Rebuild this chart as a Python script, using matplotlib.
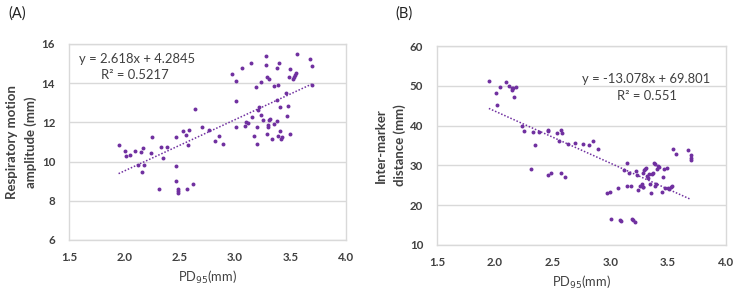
import matplotlib
matplotlib.use("Agg")
import matplotlib.pyplot as plt
import numpy as np

plt.rcParams['font.family'] = ['Lato', 'DejaVu Sans']

# Panel A data: PD95 vs respiratory motion amplitude
pd95_a = [1.948, 2.008, 2.017, 2.047, 2.10, 2.146, 2.167, 2.119, 2.179, 2.155, 2.239, 2.248,
          2.317, 2.335, 2.347, 2.389, 2.464, 2.464, 2.464, 2.485, 2.485, 2.485, 2.534, 2.558,
          2.576, 2.588, 2.567, 2.618, 2.636, 2.699, 2.765, 2.816, 2.858, 2.894, 2.975, 3.008,
          3.008, 3.008, 3.066, 3.087, 3.099, 3.117, 3.144, 3.153, 3.168, 3.186, 3.195, 3.198,
          3.210, 3.219, 3.234, 3.237, 3.255, 3.279, 3.279, 3.285, 3.303, 3.285, 3.294, 3.294,
          3.303, 3.318, 3.330, 3.354, 3.354, 3.375, 3.384, 3.375, 3.375, 3.387, 3.399, 3.408,
          3.408, 3.414, 3.423, 3.459, 3.468, 3.477, 3.483, 3.495, 3.495, 3.519, 3.531, 3.543,
          3.549, 3.564, 3.675, 3.693, 3.693]
amp_a = [10.86, 10.53, 10.27, 10.31, 10.53, 10.49, 10.68, 9.80, 9.80, 9.46, 10.44, 11.25,
         8.61, 10.75, 10.17, 10.75, 11.25, 9.76, 9.00, 8.61, 8.41, 8.49, 11.54, 11.36,
         10.86, 11.59, 8.61, 8.83, 12.68, 11.75, 11.59, 11.03, 11.32, 10.92, 14.49, 14.12,
         13.08, 11.75, 14.78, 11.83, 12.03, 11.97, 15.05, 12.25, 11.32, 13.78, 11.76, 10.92,
         12.61, 12.78, 14.05, 12.39, 12.10, 15.37, 14.95, 14.29, 14.22, 11.42, 11.76, 11.88,
         12.14, 12.19, 11.17, 11.92, 13.86, 13.15, 13.92, 12.08, 14.78, 11.32, 15.05, 12.78,
         11.54, 11.15, 11.24, 13.49, 12.31, 12.85, 14.29, 11.42, 14.71, 14.20, 14.29, 14.42,
         14.54, 15.47, 15.22, 14.85, 13.92]
slope_a, intercept_a, r2_a = 2.618, 4.2845, "0.5217"

# Panel B data: PD95 vs inter-marker distance
pd95_b = [1.949, 2.010, 2.016, 2.047, 2.099, 2.119, 2.145, 2.151, 2.162, 2.180, 2.168, 2.237,
          2.249, 2.315, 2.335, 2.347, 2.387, 2.465, 2.465, 2.465, 2.485, 2.537, 2.574, 2.583,
          2.557, 2.571, 2.612, 2.635, 2.695, 2.761, 2.813, 2.854, 2.894, 2.975, 2.998, 3.003,
          3.064, 3.081, 3.093, 3.122, 3.147, 3.162, 3.147, 3.182, 3.191, 3.194, 3.214, 3.219,
          3.234, 3.240, 3.257, 3.272, 3.280, 3.286, 3.291, 3.300, 3.309, 3.286, 3.320, 3.329,
          3.335, 3.343, 3.349, 3.361, 3.372, 3.378, 3.387, 3.387, 3.392, 3.401, 3.415, 3.424,
          3.450, 3.459, 3.467, 3.476, 3.487, 3.496, 3.510, 3.525, 3.533, 3.545, 3.565, 3.669,
          3.698, 3.698, 3.695]
dist_b = [51.09, 48.15, 45.13, 49.75, 51.01, 49.83, 49.33, 48.91, 49.33, 49.75, 47.06, 40.00,
          38.74, 29.08, 38.49, 35.13, 38.49, 38.91, 38.66, 27.56, 28.15, 38.15, 38.91, 38.24,
          36.13, 27.98, 27.14, 35.46, 35.71, 35.29, 35.04, 36.13, 34.03, 22.94, 23.36, 16.55,
          24.37, 16.30, 16.05, 28.74, 30.50, 27.98, 24.71, 24.71, 16.64, 16.39, 15.80, 28.57,
          27.56, 23.78, 24.79, 25.38, 24.62, 27.98, 28.82, 29.16, 29.41, 24.54, 27.39, 26.72,
          27.90, 25.29, 22.94, 27.82, 27.98, 30.67, 30.25, 24.79, 25.21, 29.16, 29.83, 29.66,
          23.28, 27.14, 28.99, 24.37, 29.41, 24.29, 24.12, 24.62, 24.79, 34.20, 32.94, 33.87,
          32.52, 31.93, 31.43]
slope_b, intercept_b, r2_b = -13.078, 69.801, "0.551"

x_ticks = [1.5, 2.0, 2.5, 3.0, 3.5, 4.0]
y_ticks_a = [6, 8, 10, 12, 14, 16]
y_ticks_b = [10, 20, 30, 40, 50, 60]

purple = '#7030A0'
grid_c = '#d9d9d9'
text_c = '#404040'

fig = plt.figure(figsize=(7.5, 2.93), dpi=100)
axA = fig.add_axes([0.092, 0.181, 0.369, 0.669])
axB = fig.add_axes([0.5827, 0.164, 0.385, 0.679])


def style(ax, yticks):
    ax.set_xlim(1.5, 4.0)
    ax.set_ylim(yticks[0], yticks[-1])
    ax.set_xticks(x_ticks)
    ax.set_xticklabels([f"{v:.1f}" for v in x_ticks])
    ax.set_yticks(yticks)
    ax.grid(axis='y', color=grid_c, linewidth=1)
    ax.set_axisbelow(True)
    for s in ax.spines.values():
        s.set_color(grid_c)
        s.set_linewidth(1)
    ax.tick_params(axis='y', length=0, labelsize=8.3, colors=text_c, pad=10)
    ax.tick_params(axis='x', length=0, labelsize=8.3, colors=text_c, pad=9)
    for lab in ax.get_xticklabels() + ax.get_yticklabels():
        lab.set_fontweight('bold')


def draw(ax, xs, ys, slope, intercept):
    ax.scatter(xs, ys, s=8, color=purple, zorder=3, linewidths=0)
    xl = np.array([min(xs), max(xs)])
    ax.plot(xl, slope * xl + intercept, linestyle=(0, (1, 1.2)), color=purple, linewidth=1.1, zorder=2)


style(axA, y_ticks_a)
draw(axA, pd95_a, amp_a, slope_a, intercept_a)
axA.text(0.036, 0.925, f"y = {slope_a}x + {intercept_a}", transform=axA.transAxes,
         fontsize=9.4, color=text_c, va='center', ha='left')
axA.text(0.117, 0.84, f"R² = {r2_a}", transform=axA.transAxes,
         fontsize=9.4, color=text_c, va='center', ha='left')
axA.set_ylabel("Respiratory motion\namplitude (mm)", fontsize=9.5, fontweight='bold', color=text_c,
               labelpad=3, linespacing=1.6)
axA.set_xlabel("PD$_{95}$(mm)", fontsize=9.3, color=text_c, labelpad=4)

style(axB, y_ticks_b)
draw(axB, pd95_b, dist_b, slope_b, intercept_b)
axB.text(0.947, 0.835, f"y = {slope_b}x + {intercept_b}", transform=axB.transAxes,
         fontsize=9.4, color=text_c, va='center', ha='right')
axB.text(0.83, 0.75, f"R² = {r2_b}", transform=axB.transAxes,
         fontsize=9.4, color=text_c, va='center', ha='right')
axB.set_ylabel("Inter-marker\ndistance (mm)", fontsize=9.5, fontweight='bold', color=text_c,
               labelpad=3, linespacing=1.6)
axB.set_xlabel("PD$_{95}$(mm)", fontsize=9.3, color=text_c, labelpad=4)

fig.text(0.011, 0.955, "(A)", fontsize=10.5, color='#222222', va='center', ha='left')
fig.text(0.527, 0.955, "(B)", fontsize=10.5, color='#222222', va='center', ha='left')

fig.savefig("out.png", dpi=100)
